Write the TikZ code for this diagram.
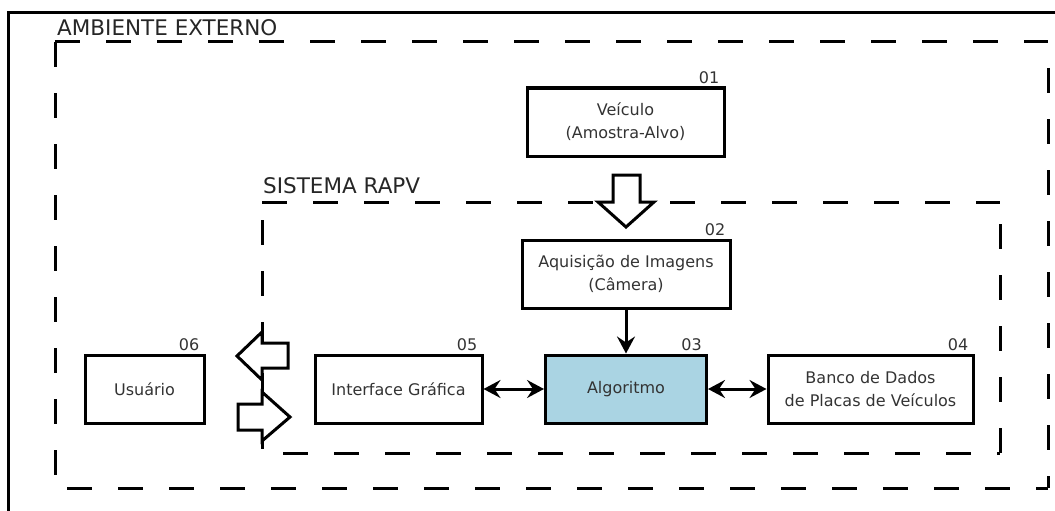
\documentclass[tikz,border=0pt]{standalone}
\usepackage{fontspec}
\setmainfont{DejaVu Sans}
\usetikzlibrary{arrows.meta,calc}

\tikzset{
  ink/.style={line width=3pt},
  frontier/.style={line width=3pt, dash pattern=on 25pt off 26pt},
  block/.style={draw, line width=3pt, minimum width=#1, minimum height=68pt,
    inner sep=2pt, align=center, text=black!80,
    font=\fontsize{16}{23}\selectfont},
  tag/.style={anchor=base east, inner sep=0pt, text=black!80,
    font=\fontsize{16}{19}\selectfont},
  title/.style={anchor=base west, inner sep=0pt, text=black!85,
    font=\fontsize{21.5}{25}\selectfont},
  hollow/.style={draw, fill=white, line width=3pt, line join=miter},
  tip/.tip={Stealth[length=17pt, width=18pt, inset=6pt]},
  link/.style={line width=3pt, tip-tip},
  feed/.style={line width=3pt, -tip},
}

\begin{document}
\begin{tikzpicture}[x=1pt, y=1pt]
\useasboundingbox (0,0) rectangle (1055,-511);

% page frame
\draw[ink] (8.5,-511) -- (8.5,-12.5) -- (1055,-12.5);

% external environment
\draw[frontier] (55,-42) -- (1048,-42);
\draw[frontier] (55,-42) -- (55,-488);
\draw[frontier, dash phase=39pt] (55,-488) -- (1048,-488);
\draw[frontier, dash phase=25pt] (1048,-42) -- (1048,-488);
\node[title] (amb) at (57,-36) {AMBIENTE EXTERNO};

% RAPV system
\draw[frontier] (262,-202) -- (1000,-202);
\draw[frontier, dash phase=29pt] (1000,-202) -- (1000,-453);
\draw[frontier, dash phase=30pt] (262,-453) -- (1000,-453);
\draw[frontier, dash phase=33pt] (262,-202) -- (262,-453);
\node[title] (rapv) at (263,-193) {SISTEMA RAPV};

% blocks
\node[block=197pt] (veic) at (625.5,-122) {Veículo\\(Amostra-Alvo)};
\node[block=208pt] (aquis) at (626,-274) {Aquisição de Imagens\\(Câmera)};
\node[block=161pt, fill={rgb,255:red,170;green,212;blue,227}] (algo) at (626,-389) {Algoritmo};
\node[block=205pt] (banco) at (870.5,-389) {Banco de Dados\\de Placas de Veículos};
\node[block=167pt] (iface) at (398.5,-389) {Interface Gráfica};
\node[block=119pt] (user) at (144.5,-389) {Usuário};

% block numbers
\node[tag] (n01) at ($(veic.north east)+(-6,3)$) {01};
\node[tag] (n02) at ($(aquis.north east)+(-6,3)$) {02};
\node[tag] (n03) at ($(algo.north east)+(-6,3)$) {03};
\node[tag] (n04) at ($(banco.north east)+(-6,3)$) {04};
\node[tag] (n05) at ($(iface.north east)+(-6,3)$) {05};
\node[tag] (n06) at ($(user.north east)+(-6,3)$) {06};

% data flow
\draw[feed] (aquis.south) -- (aquis.south |- algo.north);
\draw[link] (iface.east) -- (algo.west);
\draw[link] (algo.east) -- (banco.west);

% hollow flow arrows across the boundaries
\draw[hollow] (613,-175) -- (640,-175) -- (640,-202) -- (654,-202)
  -- (626,-227) -- (598,-202) -- (613,-202) -- cycle;
\draw[hollow] (288,-343) -- (262,-343) -- (262,-332) -- (237,-356)
  -- (262,-380) -- (262,-368) -- (288,-368) -- cycle;
\draw[hollow] (238,-404) -- (262,-404) -- (262,-392) -- (290,-417)
  -- (262,-441) -- (262,-430) -- (238,-430) -- cycle;
\end{tikzpicture}
\end{document}
